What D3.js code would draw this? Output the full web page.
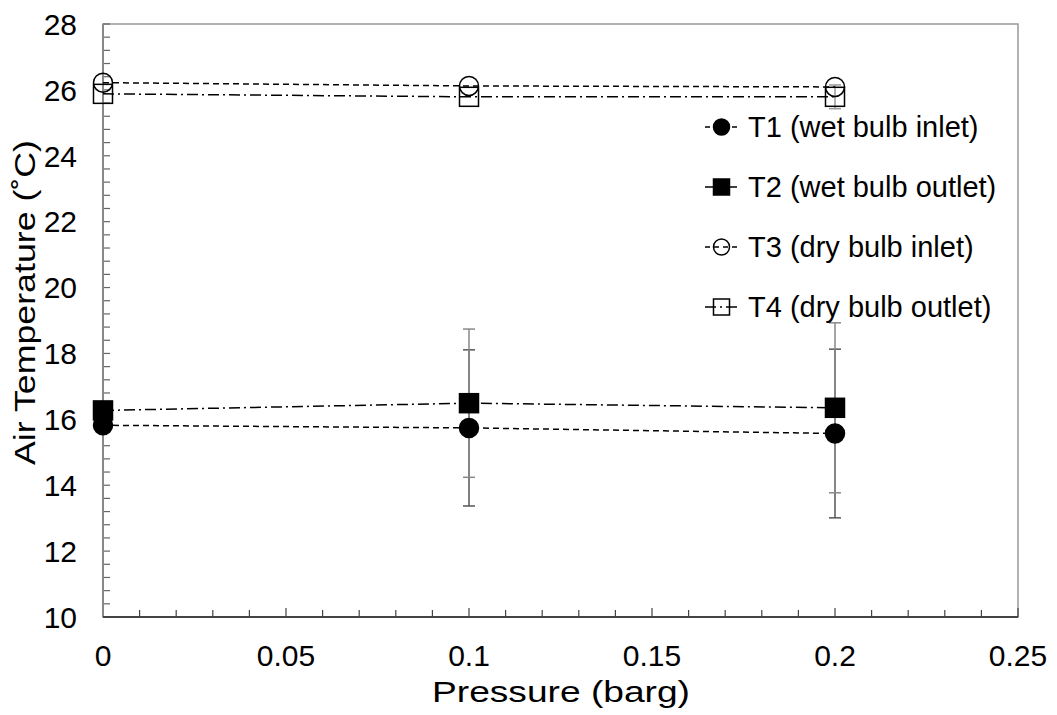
<!DOCTYPE html>
<html>
<head>
<meta charset="utf-8">
<script src="https://cdn.jsdelivr.net/npm/d3@7"></script>
<style>
  body { margin: 0; background: #fff; }
  text { font-family: "Liberation Sans", Arial, sans-serif; fill: #000; }
</style>
</head>
<body>
<script>
// pressure steps (barg)
const pressure = [0, 0.1, 0.2];

// temperatures (deg C)
const t1 = [15.82, 15.74, 15.57];
const t2 = [16.27, 16.49, 16.35];
const t3 = [26.22, 26.12, 26.09];
const t4 = [25.88, 25.79, 25.79];

// error bar half-widths (0 = none visible)
const t1Err = [0, 2.37, 2.56];
const t2Err = [0, 2.25, 2.58];
const t3Err = [0, 0, 0];
const t4Err = [0, 0, 0.36];

const xTicks = [0, 0.05, 0.1, 0.15, 0.2, 0.25];
const yTicks = [10, 12, 14, 16, 18, 20, 22, 24, 26, 28];

const series = [
  {name: "T1 (wet bulb inlet)",  values: t1, err: t1Err, shape: "circle", filled: true,  dash: "6,4",      errColor: "#555"},
  {name: "T2 (wet bulb outlet)", values: t2, err: t2Err, shape: "square", filled: true,  dash: "11,4,2,4", errColor: "#888"},
  {name: "T3 (dry bulb inlet)",  values: t3, err: t3Err, shape: "circle", filled: false, dash: "6,4",      errColor: "#999"},
  {name: "T4 (dry bulb outlet)", values: t4, err: t4Err, shape: "square", filled: false, dash: "11,4,2,4", errColor: "#999"}
];

const width = 1057, height = 715;
const margin = {left: 103, right: 39, top: 24, bottom: 98};

const svg = d3.select("body").append("svg")
    .attr("width", width)
    .attr("height", height);

const x = d3.scaleLinear().domain([0, 0.25]).range([margin.left, width - margin.right]);
const y = d3.scaleLinear().domain([10, 28]).range([height - margin.bottom, margin.top]);

// frame
svg.append("rect")
    .attr("x", x(0)).attr("y", y(28))
    .attr("width", x(0.25) - x(0)).attr("height", y(10) - y(28))
    .attr("fill", "none").attr("stroke", "#999").attr("stroke-width", 1.5);

// minor ticks
const yMinor = d3.range(10, 28.001, 0.4);
svg.append("g").selectAll("line").data(yMinor).join("line")
    .attr("x1", x(0)).attr("x2", x(0) + 7)
    .attr("y1", d => y(d)).attr("y2", d => y(d))
    .attr("stroke", "#666").attr("stroke-width", 1.2);

const xMinor = d3.range(0, 0.2501, 0.01);
svg.append("g").selectAll("line").data(xMinor).join("line")
    .attr("x1", d => x(d)).attr("x2", d => x(d))
    .attr("y1", y(10)).attr("y2", (d, i) => y(10) - (i % 5 === 0 ? 9 : 7))
    .attr("stroke", "#444").attr("stroke-width", 1.2);

// axes lines
svg.append("line")
    .attr("x1", x(0)).attr("x2", x(0)).attr("y1", y(10)).attr("y2", y(28))
    .attr("stroke", "#888").attr("stroke-width", 2);
svg.append("line")
    .attr("x1", x(0)).attr("x2", x(0.25)).attr("y1", y(10)).attr("y2", y(10))
    .attr("stroke", "#444").attr("stroke-width", 2);

// tick labels
svg.append("g").selectAll("text").data(yTicks).join("text")
    .attr("x", 77).attr("y", d => y(d)).attr("dy", "0.36em")
    .attr("text-anchor", "end").attr("font-size", 30)
    .text(d => d);

svg.append("g").selectAll("text").data(xTicks).join("text")
    .attr("x", d => x(d)).attr("y", 666)
    .attr("text-anchor", "middle").attr("font-size", 30)
    .text(d => d);

// axis titles (the source font runs wide, so stretch to measured length)
svg.append("text")
    .attr("x", 432).attr("y", 702)
    .attr("font-size", 29)
    .attr("textLength", 258).attr("lengthAdjust", "spacingAndGlyphs")
    .text("Pressure (barg)");

svg.append("text")
    .attr("transform", `translate(35,465) rotate(-90)`)
    .attr("font-size", 29)
    .attr("textLength", 325).attr("lengthAdjust", "spacingAndGlyphs")
    .text("Air Temperature (˚C)");

// error bars
series.forEach(s => {
  const g = svg.append("g");
  const pts = pressure.map((p, i) => ({p, v: s.values[i], e: s.err[i]})).filter(d => d.e > 0);
  g.selectAll("line.v").data(pts).join("line")
      .attr("x1", d => x(d.p)).attr("x2", d => x(d.p))
      .attr("y1", d => y(d.v - d.e)).attr("y2", d => y(d.v + d.e))
      .attr("stroke", s.errColor).attr("stroke-width", 1.5);
  [-1, 1].forEach(sg => {
    g.selectAll(null).data(pts).join("line")
        .attr("x1", d => x(d.p) - 6).attr("x2", d => x(d.p) + 6)
        .attr("y1", d => y(d.v + sg * d.e)).attr("y2", d => y(d.v + sg * d.e))
        .attr("stroke", s.errColor).attr("stroke-width", 1.5);
  });
});

// lines
const line = d3.line().x((d, i) => x(pressure[i])).y(d => y(d));
series.forEach(s => {
  svg.append("path")
      .attr("d", line(s.values))
      .attr("fill", "none").attr("stroke", "#000")
      .attr("stroke-width", 1.5).attr("stroke-dasharray", s.dash);
});

function drawMarker(g, s, cx, cy, size) {
  if (s.shape === "circle") {
    g.append("circle").attr("cx", cx).attr("cy", cy).attr("r", size / 2)
        .attr("fill", s.filled ? "#000" : "none")
        .attr("stroke", "#000").attr("stroke-width", 1.5);
  } else {
    g.append("rect").attr("x", cx - size / 2).attr("y", cy - size / 2)
        .attr("width", size).attr("height", size)
        .attr("fill", s.filled ? "#000" : "none")
        .attr("stroke", "#000").attr("stroke-width", 1.5);
  }
}

// markers
series.forEach(s => {
  const g = svg.append("g");
  s.values.forEach((v, i) => drawMarker(g, s, x(pressure[i]), y(v), 19));
});

// legend
const legend = svg.append("g").attr("transform", "translate(705,127)");
series.forEach((s, i) => {
  const g = legend.append("g").attr("transform", `translate(0,${i * 60})`);
  g.append("line").attr("x1", 0).attr("x2", 33).attr("y1", 0).attr("y2", 0)
      .attr("stroke", "#000").attr("stroke-width", 1.5)
      .attr("stroke-dasharray", s.shape === "circle" ? "5,4" : "11,4,2,4");
  drawMarker(g, s, 16.5, 0, 16);
  g.append("text").attr("x", 43).attr("y", 0).attr("dy", "0.36em")
      .attr("font-size", 29).text(s.name);
});
</script>
</body>
</html>
